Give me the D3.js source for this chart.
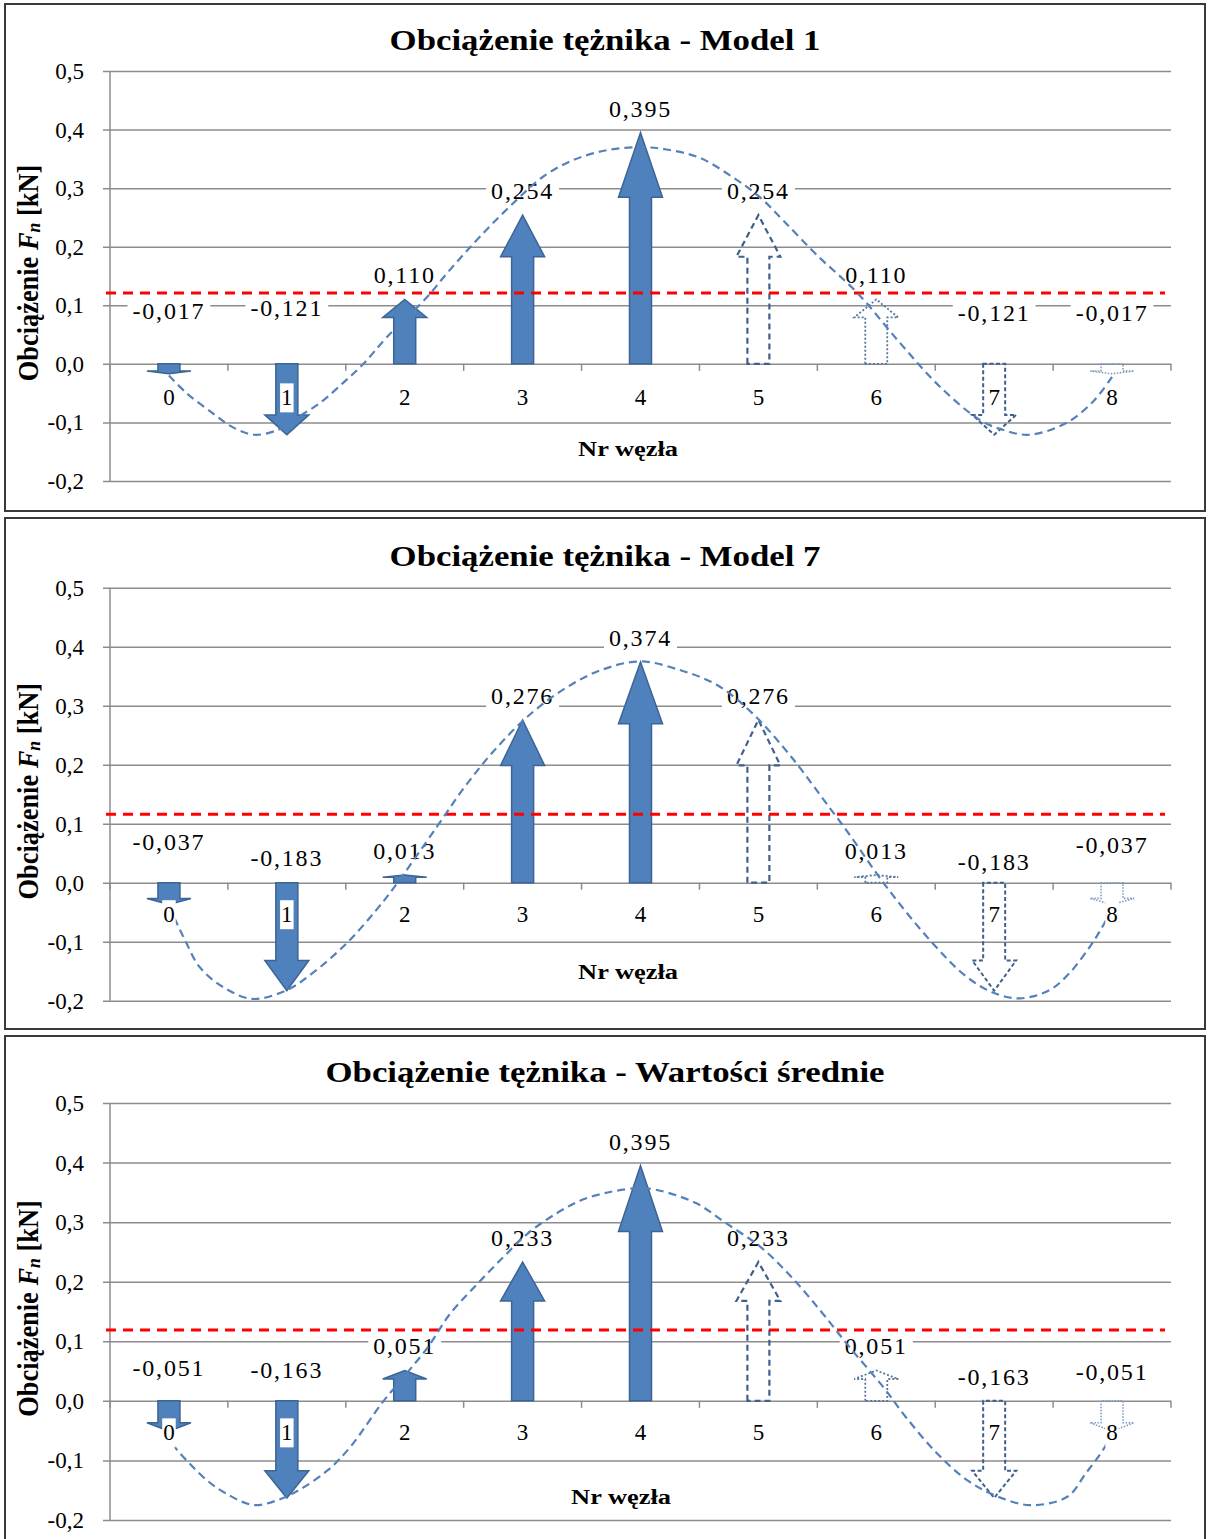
<!DOCTYPE html>
<html>
<head>
<meta charset="utf-8">
<script src="https://cdn.jsdelivr.net/npm/d3@7"></script>
<style>
  body { margin: 0; background: #fff; }
  svg { display: block; }
</style>
</head>
<body>
<script>
// Node numbers along the truss chord
const nodes = [0, 1, 2, 3, 4, 5, 6, 7, 8];

// Nodal loads F_n [kN]
const model1 = [-0.017, -0.121, 0.110, 0.254, 0.395, 0.254, 0.110, -0.121, -0.017];
const model7 = [-0.037, -0.183, 0.013, 0.276, 0.374, 0.276, 0.013, -0.183, -0.037];
const meanVals = [-0.051, -0.163, 0.051, 0.233, 0.395, 0.233, 0.051, -0.163, -0.051];

// Reference level (red dashed line) for each chart
const refLevels = [0.121, 0.116, 0.119];

// Envelope curves: [node position, value]
const curve1 = [[0, -0.02], [0.15, -0.05], [0.37, -0.084], [0.54, -0.108], [0.72, -0.121], [0.92, -0.113],
  [1.05, -0.096], [1.28, -0.067], [1.48, -0.032], [1.65, 0.0], [1.85, 0.046], [2.19, 0.114], [2.36, 0.155],
  [2.67, 0.224], [2.95, 0.28], [3.17, 0.319], [3.43, 0.348], [3.72, 0.365], [4.0, 0.37], [4.22, 0.366],
  [4.5, 0.352], [4.78, 0.319], [5.01, 0.285], [5.21, 0.245], [5.5, 0.185], [5.84, 0.121], [6.2, 0.036],
  [6.54, -0.039], [6.88, -0.096], [7.08, -0.113], [7.3, -0.121], [7.62, -0.1], [7.85, -0.062], [8.0, -0.022]];
const curve7 = [[0, -0.04], [0.07, -0.07], [0.15, -0.103], [0.26, -0.143], [0.46, -0.177], [0.71, -0.197],
  [1.0, -0.182], [1.22, -0.153], [1.51, -0.102], [1.76, -0.046], [1.91, -0.008], [2.27, 0.094], [2.5, 0.16],
  [2.75, 0.222], [3.05, 0.283], [3.35, 0.328], [3.66, 0.36], [4.0, 0.375], [4.34, 0.36], [4.65, 0.335],
  [4.95, 0.287], [5.28, 0.213], [5.6, 0.128], [5.75, 0.088], [6.09, -0.008], [6.48, -0.103], [6.77, -0.16],
  [7.0, -0.187], [7.22, -0.196], [7.47, -0.182], [7.64, -0.153], [7.81, -0.109], [7.9, -0.081], [8.0, -0.045]];
const curveMean = [[0, -0.051], [0.05, -0.077], [0.17, -0.104], [0.32, -0.133], [0.48, -0.155], [0.72, -0.175],
  [0.93, -0.166], [1.11, -0.149], [1.35, -0.116], [1.54, -0.077], [1.81, -0.003], [2.02, 0.047], [2.2, 0.091],
  [2.38, 0.145], [2.6, 0.193], [2.84, 0.242], [3.05, 0.282], [3.29, 0.315], [3.5, 0.337], [3.75, 0.351],
  [3.98, 0.357], [4.14, 0.354], [4.47, 0.332], [4.72, 0.299], [5.02, 0.258], [5.28, 0.208], [5.54, 0.148],
  [5.77, 0.091], [6.06, 0.023], [6.25, -0.027], [6.51, -0.087], [6.77, -0.133], [7.0, -0.158], [7.3, -0.175],
  [7.62, -0.161], [7.78, -0.121], [7.94, -0.077], [8.0, -0.051]];

const titles = [
  "Obciążenie tężnika - Model 1",
  "Obciążenie tężnika - Model 7",
  "Obciążenie tężnika - Wartości średnie"
];
const yTicks = [-0.2, -0.1, 0.0, 0.1, 0.2, 0.3, 0.4, 0.5];
const xAxisTitle = "Nr węzła";

// Outline style of each node's arrow (left half solid, right half outlined)
const arrowKinds = ["solid", "solid", "solid", "solid", "solid", "dash", "dot", "shortdash", "dotlight"];
const arrowStyle = {
  solid:     { fill: "#4f81bd", stroke: "#3c6494", width: 1.5, dash: null },
  dash:      { fill: "none", stroke: "#3f5f8c", width: 2.2, dash: "6,4" },
  dot:       { fill: "none", stroke: "#55779f", width: 1.8, dash: "2,2" },
  shortdash: { fill: "none", stroke: "#3f5f8c", width: 2, dash: "4,2.5" },
  dotlight:  { fill: "none", stroke: "#7f9cc4", width: 1.6, dash: "1.5,1.5" }
};

// Page layout of the three stacked charts
const panels = [
  { title: titles[0], values: model1, curve: curve1, ref: refLevels[0],
    frameTop: 4, frameH: 507, yTop: 71, yBottom: 481, titleY: 40,
    catDy: 34, axisTitleX: 628, axisTitleY: 448, negLift: [53, 56, 0, 0, 0, 0, 0, 51, 51] },
  { title: titles[1], values: model7, curve: curve7, ref: refLevels[1],
    frameTop: 518, frameH: 511, yTop: 587.7, yBottom: 1000.7, titleY: 556,
    catDy: 32, axisTitleX: 628, axisTitleY: 971, negLift: [41, 25, 0, 0, 0, 0, 0, 21, 38] },
  { title: titles[2], values: meanVals, curve: curveMean, ref: refLevels[2],
    frameTop: 1036, frameH: 520, yTop: 1103, yBottom: 1520, titleY: 1072,
    catDy: 32, axisTitleX: 621, axisTitleY: 1496, negLift: [33, 31, 0, 0, 0, 0, 0, 24, 29] }
];

const W = 1213, H = 1539;
const plotLeft = 110, plotRight = 1171;
const SERIF = "'Liberation Serif', 'Times New Roman', serif";

const locale = d3.formatLocale({ decimal: ",", thousands: "\u00a0", grouping: [3], currency: ["", ""], minus: "-" });
const fmtTick = locale.format(".1f");
const fmtVal = locale.format(".3f");

const svg = d3.select("body").append("svg")
  .attr("width", W).attr("height", H)
  .attr("font-family", SERIF);

const x = d3.scaleBand().domain(nodes).range([plotLeft, plotRight]).padding(0);
const xPos = d3.scaleLinear().domain([-0.5, nodes.length - 0.5]).range([plotLeft, plotRight]);

const SHAFT = 11, HEAD = 22, HEAD_RATIO = 0.28;

function arrowPath(cx, y0, yt) {
  const yb = yt + HEAD_RATIO * (y0 - yt);
  return `M${cx - SHAFT},${y0} L${cx - SHAFT},${yb} L${cx - HEAD},${yb} L${cx},${yt} ` +
         `L${cx + HEAD},${yb} L${cx + SHAFT},${yb} L${cx + SHAFT},${y0} Z`;
}

// Text with a white box behind it
function boxedText(g, txt, cx, cy, opts) {
  const grp = g.append("g");
  const rect = grp.append("rect").attr("fill", "#fff");
  const t = grp.append("text")
    .attr("x", cx).attr("y", cy)
    .attr("text-anchor", "middle")
    .attr("dominant-baseline", "central")
    .attr("font-size", opts.size)
    .attr("letter-spacing", opts.spacing || 0)
    .attr("fill", "#000")
    .text(txt);
  const bb = t.node().getBBox();
  rect.attr("x", bb.x - opts.padX).attr("y", bb.y - opts.padY)
      .attr("width", bb.width + 2 * opts.padX).attr("height", bb.height + 2 * opts.padY);
  return grp;
}

panels.forEach(p => {
  const g = svg.append("g");
  const y = d3.scaleLinear().domain([-0.2, 0.5]).range([p.yBottom, p.yTop]);
  const y0 = y(0);

  // frame
  g.append("rect")
    .attr("x", 5).attr("y", p.frameTop).attr("width", 1200).attr("height", p.frameH)
    .attr("fill", "#fff").attr("stroke", "#3a3a3a").attr("stroke-width", 2);

  // title
  g.append("text")
    .attr("transform", `translate(605,${p.titleY}) scale(1.2,1)`)
    .attr("text-anchor", "middle").attr("dominant-baseline", "central")
    .attr("font-size", 29).attr("font-weight", "bold")
    .text(p.title);

  // y grid + tick labels
  const axis = d3.axisLeft(y).tickValues(yTicks).tickFormat(fmtTick)
    .tickSizeInner(-(plotRight - 103)).tickSizeOuter(0).tickPadding(19);
  const ag = g.append("g").attr("transform", "translate(103,0)").call(axis);
  ag.select(".domain").remove();
  ag.selectAll(".tick line").attr("stroke", "#8c8c8c").attr("stroke-width", 1.5);
  ag.selectAll(".tick text")
    .attr("font-family", SERIF).attr("font-size", 23).attr("fill", "#000")
    .attr("dy", null).attr("dominant-baseline", "central");

  // vertical axis line
  g.append("line")
    .attr("x1", plotLeft).attr("x2", plotLeft).attr("y1", y(0.5)).attr("y2", y(-0.2))
    .attr("stroke", "#8c8c8c").attr("stroke-width", 1.5);

  // category boundary ticks on the zero line
  const bounds = d3.range(nodes.length + 1).map(k => plotLeft + k * x.step());
  g.selectAll(".bt").data(bounds).join("line")
    .attr("x1", d => d).attr("x2", d => d).attr("y1", y0).attr("y2", y0 + 7)
    .attr("stroke", "#8c8c8c").attr("stroke-width", 1.5);

  // value labels
  const lg = g.append("g");
  p.values.forEach((v, i) => {
    const cx = x(nodes[i]) + x.bandwidth() / 2;
    const cy = v >= 0 ? y(v) - 24 : y0 - p.negLift[i];
    boxedText(lg, fmtVal(v), cx, cy, { size: 24, spacing: 1.8, padX: 5, padY: 0 });
  });

  // arrows
  g.selectAll(".arrow").data(p.values).join("path")
    .attr("d", (v, i) => arrowPath(x(nodes[i]) + x.bandwidth() / 2, y0, y(v)))
    .attr("fill", (v, i) => arrowStyle[arrowKinds[i]].fill)
    .attr("stroke", (v, i) => arrowStyle[arrowKinds[i]].stroke)
    .attr("stroke-width", (v, i) => arrowStyle[arrowKinds[i]].width)
    .attr("stroke-dasharray", (v, i) => arrowStyle[arrowKinds[i]].dash)
    .attr("stroke-linejoin", "miter");

  // reference level
  g.append("line")
    .attr("x1", 106).attr("x2", 1165).attr("y1", y(p.ref)).attr("y2", y(p.ref))
    .attr("stroke", "#ff0000").attr("stroke-width", 3).attr("stroke-dasharray", "10,7");

  // envelope curve
  const line = d3.line().x(d => xPos(d[0])).y(d => y(d[1])).curve(d3.curveCatmullRom.alpha(0.5));
  g.append("path").datum(p.curve)
    .attr("d", line).attr("fill", "none")
    .attr("stroke", "#5581bb").attr("stroke-width", 2.2).attr("stroke-dasharray", "8,5");

  // category labels
  const cg = g.append("g");
  nodes.forEach(n => {
    boxedText(cg, String(n), x(n) + x.bandwidth() / 2, y0 + p.catDy, { size: 23, padX: 1, padY: 2 });
  });

  // x-axis title
  g.append("text")
    .attr("transform", `translate(${p.axisTitleX},${p.axisTitleY}) scale(1.2,1)`)
    .attr("text-anchor", "middle").attr("dominant-baseline", "central")
    .attr("font-size", 22).attr("font-weight", "bold")
    .text(xAxisTitle);

  // y-axis title
  const yt = g.append("text")
    .attr("transform", `translate(28,${y(0.15) - 3}) rotate(-90) scale(1.1,1.2)`)
    .attr("text-anchor", "middle").attr("dominant-baseline", "central")
    .attr("font-size", 24).attr("font-weight", "bold");
  yt.append("tspan").text("Obciążenie ");
  yt.append("tspan").attr("font-style", "italic").text("F");
  yt.append("tspan").attr("font-style", "italic").attr("font-size", 16).attr("dy", 5).text("n");
  yt.append("tspan").attr("dy", -5).text(" [kN]");
});
</script>
</body>
</html>
